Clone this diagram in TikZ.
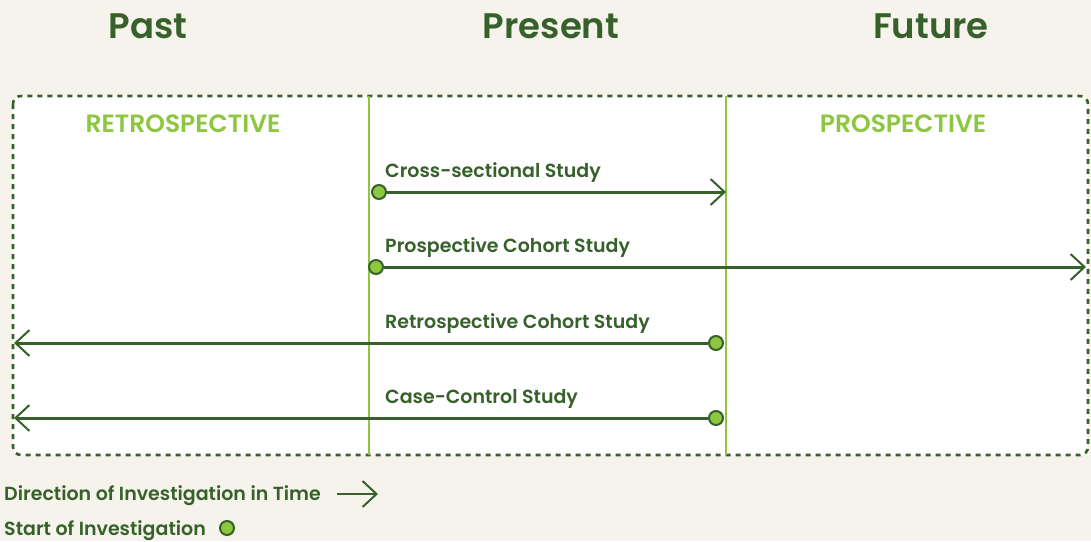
\documentclass[tikz,border=0pt]{standalone}
\usepackage{fontspec}
\setmainfont{Poppins}[BoldFont={Poppins SemiBold}]
\usetikzlibrary{arrows.meta}
\definecolor{cream}{HTML}{F6F3EC}
\definecolor{dkgreen}{HTML}{37612A}
\definecolor{ltgreen}{HTML}{8DC63F}
\begin{document}
\begin{tikzpicture}[x=1pt,y=-1pt,
  era/.style={font=\fontsize{35.5}{40}\selectfont\bfseries, text=dkgreen, anchor=base, inner sep=0pt},
  zone/.style={font=\fontsize{25}{28}\selectfont\bfseries, text=ltgreen, anchor=base, inner sep=0pt},
  study/.style={font=\fontsize{19}{22}\selectfont\bfseries, text=dkgreen, anchor=base west, inner sep=0pt},
  legend/.style={font=\fontsize{19}{22}\selectfont\bfseries, text=dkgreen, anchor=base west, inner sep=0pt},
  dot/.style={circle, draw=dkgreen, fill=ltgreen, line width=2pt, minimum size=14pt, inner sep=0pt},
  arr/.style={draw=dkgreen, line width=3pt, -{Straight Barb[length=14pt,width=26pt,line width=2pt]}},
  divider/.style={draw=ltgreen, line width=1.6pt},
  frame/.style={draw=dkgreen, line width=2.6pt, dash pattern=on 5pt off 5pt, rounded corners=8pt, fill=white}]
  % page
  \fill[cream] (0,0) rectangle (1091,541);
  % study window
  \draw[frame] (13,96) rectangle (1088,455);
  \draw[divider] (369,96) -- (369,455);
  \draw[divider] (726,96) -- (726,455);
  % time headings
  \node[era] (past) at (148,38) {Past};
  \node[era] (present) at (551,38) {Present};
  \node[era] (future) at (931,38) {Future};
  \node[zone] (retro) at (183,132) {RETROSPECTIVE};
  \node[zone] (pros) at (903,132) {PROSPECTIVE};
  % studies
  \node[study] (l1) at (385,177) {Cross-sectional Study};
  \node[dot] (d1) at (379,192) {};
  \coordinate (e1) at (726,192);
  \draw[arr] (d1) -- (e1);

  \node[study] (l2) at (385,252) {Prospective Cohort Study};
  \node[dot] (d2) at (376,267) {};
  \coordinate (e2) at (1086,267);
  \draw[arr] (d2) -- (e2);

  \node[study] (l3) at (385,328) {Retrospective Cohort Study};
  \node[dot] (d3) at (716,343) {};
  \coordinate (e3) at (14,343);
  \draw[arr] (d3) -- (e3);

  \node[study] (l4) at (385,403) {Case-Control Study};
  \node[dot] (d4) at (716,418) {};
  \coordinate (e4) at (14,418);
  \draw[arr] (d4) -- (e4);

  % legend
  \node[legend] (leg1) at (4,500) {Direction of Investigation in Time};
  \coordinate (la) at (337,494);
  \coordinate (lb) at (378,494);
  \draw[arr, line width=2.5pt] (la) -- (lb);
  \node[legend] (leg2) at (4,535) {Start of Investigation};
  \node[dot] (ld) at (227,528) {};
\end{tikzpicture}
\end{document}
